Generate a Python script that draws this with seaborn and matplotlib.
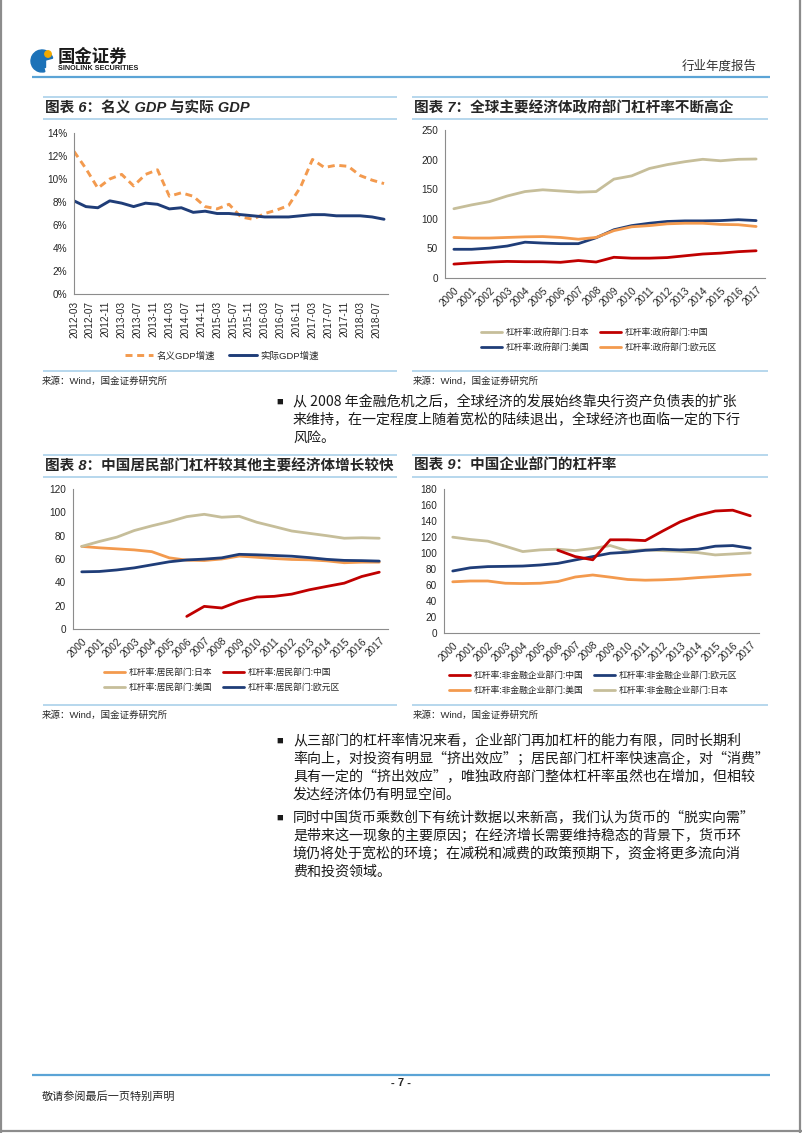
import numpy as np
import pandas as pd
import matplotlib
matplotlib.use("Agg")
import matplotlib.pyplot as plt
import seaborn as sns
from matplotlib.lines import Line2D
from matplotlib.patches import Wedge, Circle, Rectangle

# ---------------------------------------------------------------
# data
# ---------------------------------------------------------------
quarters = ["2012-03", "2012-06", "2012-09", "2012-12", "2013-03", "2013-06", "2013-09",
            "2013-12", "2014-03", "2014-06", "2014-09", "2014-12", "2015-03", "2015-06",
            "2015-09", "2015-12", "2016-03", "2016-06", "2016-09", "2016-12", "2017-03",
            "2017-06", "2017-09", "2017-12", "2018-03", "2018-06", "2018-09"]
nominal_gdp = [12.4, 10.9, 9.2, 10.0, 10.4, 9.4, 10.4, 10.8, 8.5, 8.8, 8.5, 7.6, 7.4, 7.8,
               6.7, 6.5, 7.0, 7.3, 7.7, 9.3, 11.7, 11.0, 11.2, 11.1, 10.3, 9.9, 9.6]
real_gdp = [8.1, 7.6, 7.5, 8.1, 7.9, 7.6, 7.9, 7.8, 7.4, 7.5, 7.1, 7.2, 7.0, 7.0,
            6.9, 6.8, 6.7, 6.7, 6.7, 6.8, 6.9, 6.9, 6.8, 6.8, 6.8, 6.7, 6.5]

years = [str(y) for y in range(2000, 2018)]
nan = np.nan

gov_japan = [117, 123.5, 129, 138.5, 146, 149, 147, 145, 146, 167, 172.5, 185, 191.5, 196.5, 200.5, 198, 200.5, 201]
gov_china = [23.5, 25.5, 27, 28, 27.5, 27.5, 26.5, 29.5, 27, 35, 33.5, 33.5, 34.5, 37.5, 40.5, 42, 44.5, 46]
gov_usa = [48.5, 48.5, 50.5, 54, 60.5, 59, 58, 58, 68, 81.5, 88.5, 92.5, 95.5, 96.5, 96.5, 97, 98.5, 97]
gov_euro = [68.5, 67.5, 67.5, 68.5, 69.5, 70, 68.5, 65.5, 68.5, 80, 86.5, 88.5, 91.5, 92.5, 92.5, 90.5, 90, 87]

hh_japan = [70.8, 69.6, 68.7, 67.8, 66.3, 61, 59, 58.7, 60, 62.5, 61.5, 60.4, 59.6, 59.3, 58.4, 56.8, 57.3, 57.3]
hh_china = [nan, nan, nan, nan, nan, nan, 10.8, 19.4, 18, 23.7, 27.4, 28, 29.9, 33.6, 36.5, 39.3, 45, 48.7]
hh_usa = [70.8, 75, 78.7, 84.4, 88.4, 92, 96.3, 98.3, 95.8, 96.6, 91.5, 87.8, 84, 82, 80, 77.8, 78.2, 77.8]
hh_euro = [49, 49.3, 50.6, 52.4, 55, 57.6, 59.2, 59.9, 61, 64, 63.6, 63, 62.4, 61.2, 59.7, 58.8, 58.6, 58.2]

corp_china = [nan, nan, nan, nan, nan, nan, 103.5, 95.5, 91.5, 116.5, 116.5, 115.5, 127.5, 139, 147, 152.5, 153.5, 146.5]
corp_euro = [77.5, 81.5, 83, 83.3, 83.7, 85, 87, 91.3, 95.5, 99.7, 101, 103.4, 104.7, 103.9, 104.7, 108.5, 109.3, 106]
corp_usa = [64, 65, 65, 62.2, 61.8, 62.2, 64.3, 70, 72.5, 69.8, 66.9, 66, 66.5, 67.5, 69.2, 70.5, 72, 73.2]
corp_japan = [119.8, 116.9, 114.8, 108.5, 101.8, 103.9, 104.7, 103, 105.6, 109.3, 102.6, 103.9, 103, 102, 100.5, 97.6, 98.8, 100.1]

# colours
ORANGE = "#F39A4E"
NAVY = "#1F3D78"
RED = "#C00000"
BEIGE = "#C6BE9A"
LINE_BLUE = "#5BA4D6"
PALE_BLUE = "#A3CDE8"
AXIS = "#8C8C8C"
TXT = "#262626"

sns.set_theme(style="white")
plt.rcParams["font.family"] = ["Liberation Sans", "Noto Sans CJK SC"]
plt.rcParams["axes.unicode_minus"] = False
CJK_FIRST = ["Noto Sans CJK SC", "Liberation Sans"]

W, H = 802, 1133
fig = plt.figure(figsize=(W / 100, H / 100), dpi=100)
fig.patch.set_facecolor("white")


def box(x0, y0, x1, y1):
    return [x0 / W, 1 - y1 / H, (x1 - x0) / W, (y1 - y0) / H]


def fy(y):
    return 1 - y / H


def hline(y, x0, x1, color, lw):
    fig.add_artist(Line2D([x0 / W, x1 / W], [fy(y), fy(y)], transform=fig.transFigure,
                          color=color, lw=lw, solid_capstyle="butt"))


def label(x, y, s, **kw):
    kw.setdefault("va", "center")
    kw.setdefault("color", TXT)
    fig.text(x / W, fy(y), s, **kw)


def style_ax(ax):
    for s in ["top", "right"]:
        ax.spines[s].set_visible(False)
    for s in ["left", "bottom"]:
        ax.spines[s].set_color(AXIS)
        ax.spines[s].set_linewidth(0.8)
    ax.tick_params(colors=AXIS, labelcolor=TXT, labelsize=7.2, length=3, width=0.8, pad=2)
    ax.set_xlabel("")
    ax.set_ylabel("")
    ax.set_facecolor("white")


def category_x(ax):
    ax.set_xlim(-0.5, len(years) - 0.5)
    ax.set_xticks(range(len(years)))
    ax.set_xticklabels(years, rotation=45, ha="right", rotation_mode="anchor", fontsize=7.2)
    ax.tick_params(axis="x", which="major", length=0, pad=5)
    ax.set_xticks(np.arange(-0.5, len(years), 1), minor=True)
    ax.tick_params(axis="x", which="minor", length=3, color=AXIS, width=0.8)


def legend(ax, order, cx, cy, fs=6.3):
    handles = [ax.lines[i] for i in order]
    labels = [h.get_label() for h in handles]
    ax.legend(handles, labels, ncol=2, loc="center", bbox_to_anchor=(cx / W, fy(cy)),
              bbox_transform=fig.transFigure, frameon=False, fontsize=fs,
              handlelength=2.4, handletextpad=0.4, columnspacing=1.3, labelspacing=0.75,
              labelcolor=TXT)


def series_plot(ax, values, color, name):
    df = pd.DataFrame({"x": range(len(years)), "y": values}).dropna()
    sns.lineplot(data=df, x="x", y="y", color=color, lw=2, ax=ax, label=name, legend=False)


# ---------------------------------------------------------------
# page furniture
# ---------------------------------------------------------------
for xs, ys in [([0.001, 0.001], [0, 1]), ([0.998, 0.998], [0, 1]), ([0, 1], [0.002, 0.002])]:
    fig.add_artist(Line2D(xs, ys, transform=fig.transFigure, color="#8C8C8C", lw=1.6))

logo = fig.add_axes(box(28, 44, 58, 76))
logo.set_xlim(0, 30)
logo.set_ylim(32, 0)
logo.axis("off")
logo.add_patch(Wedge((14, 17), 11, 75, 345, width=6.5, color="#1C72B8"))
logo.add_patch(Rectangle((10.5, 11), 7, 12, color="#1C72B8"))
logo.add_patch(Circle((20, 10), 3.2, color="#F2A900"))
label(58, 57, "国金证券", fontsize=12.5, fontweight="bold", color="#1a1a1a", family=CJK_FIRST)
label(58, 69, "SINOLINK SECURITIES", fontsize=5.2, fontweight="bold", color="#1a1a1a")
label(757, 66, "行业年度报告", fontsize=9, ha="right", color="#333333")
hline(77, 32, 770, LINE_BLUE, 1.6)

# chart title / source rules
for x0, x1 in [(43, 397), (412, 768)]:
    hline(97, x0, x1, PALE_BLUE, 1.1)
    hline(119, x0, x1, PALE_BLUE, 1.1)
    hline(371, x0, x1, PALE_BLUE, 1.1)
    hline(455, x0, x1, PALE_BLUE, 1.1)
    hline(477, x0, x1, PALE_BLUE, 1.1)
    hline(705, x0, x1, PALE_BLUE, 1.1)

label(45, 108, "图表 6：名义 GDP 与实际 GDP", fontsize=10.5, fontweight="bold", style="italic")
label(414, 108, "图表 7：全球主要经济体政府部门杠杆率不断高企", fontsize=10.5, fontweight="bold", style="italic")
label(45, 466, "图表 8：中国居民部门杠杆较其他主要经济体增长较快", fontsize=10.5, fontweight="bold", style="italic")
label(414, 466, "图表 9：中国企业部门的杠杆率", fontsize=10.5, fontweight="bold", style="italic")

for x, y in [(42, 381), (413, 381), (42, 715), (413, 715)]:
    label(x, y, "来源：Wind，国金证券研究所", fontsize=6.8)

# ---------------------------------------------------------------
# chart 6: nominal vs real GDP
# ---------------------------------------------------------------
gdp = pd.DataFrame({"quarter": pd.to_datetime(quarters), "nominal": nominal_gdp, "real": real_gdp})
start = gdp["quarter"].iloc[0]
gdp["m"] = (gdp["quarter"].dt.year - start.year) * 12 + gdp["quarter"].dt.month - start.month

ax6 = fig.add_axes(box(74, 133, 388, 294))
sns.lineplot(data=gdp, x="m", y="nominal", color=ORANGE, lw=2.1, ax=ax6, label="名义GDP增速", legend=False)
sns.lineplot(data=gdp, x="m", y="real", color=NAVY, lw=2.1, ax=ax6, label="实际GDP增速", legend=False)
ax6.lines[0].set_dashes([2.4, 1.6])
style_ax(ax6)
tick_dates = pd.date_range(quarters[0], "2018-07-01", freq="4MS")
tick_m = [(d.year - start.year) * 12 + d.month - start.month for d in tick_dates]
ax6.set_xlim(0, 79)
ax6.set_xticks(tick_m)
ax6.set_xticklabels([d.strftime("%Y-%m") for d in tick_dates], rotation=90, fontsize=7.2)
ax6.set_ylim(0, 14)
ax6.set_yticks(range(0, 15, 2))
ax6.set_yticklabels([f"{v}%" for v in range(0, 15, 2)])
ax6.set_xlabel("")
ax6.set_ylabel("")
h6 = ax6.lines[:2]
ax6.legend(h6, [h.get_label() for h in h6], ncol=2, loc="center", bbox_to_anchor=(222 / W, fy(356)),
           bbox_transform=fig.transFigure, frameon=False, fontsize=6.8, handlelength=3.0,
           handletextpad=0.4, columnspacing=1.4, labelcolor=TXT)

# ---------------------------------------------------------------
# chart 7: government leverage
# ---------------------------------------------------------------
ax7 = fig.add_axes(box(445, 130, 765, 278))
series_plot(ax7, gov_japan, BEIGE, "杠杆率:政府部门:日本")
series_plot(ax7, gov_china, RED, "杠杆率:政府部门:中国")
series_plot(ax7, gov_usa, NAVY, "杠杆率:政府部门:美国")
series_plot(ax7, gov_euro, ORANGE, "杠杆率:政府部门:欧元区")
style_ax(ax7)
category_x(ax7)
ax7.set_ylim(0, 250)
ax7.set_yticks(range(0, 251, 50))
ax7.set_xlabel("")
ax7.set_ylabel("")
legend(ax7, [0, 2, 1, 3], 599, 340)

# ---------------------------------------------------------------
# chart 8: household leverage
# ---------------------------------------------------------------
ax8 = fig.add_axes(box(73, 489, 388, 629))
series_plot(ax8, hh_japan, ORANGE, "杠杆率:居民部门:日本")
series_plot(ax8, hh_china, RED, "杠杆率:居民部门:中国")
series_plot(ax8, hh_usa, BEIGE, "杠杆率:居民部门:美国")
series_plot(ax8, hh_euro, NAVY, "杠杆率:居民部门:欧元区")
style_ax(ax8)
category_x(ax8)
ax8.set_ylim(0, 120)
ax8.set_yticks(range(0, 121, 20))
ax8.set_xlabel("")
ax8.set_ylabel("")
legend(ax8, [0, 2, 1, 3], 222, 680)

# ---------------------------------------------------------------
# chart 9: corporate leverage
# ---------------------------------------------------------------
ax9 = fig.add_axes(box(444, 489, 759, 633))
series_plot(ax9, corp_japan, BEIGE, "杠杆率:非金融企业部门:日本")
series_plot(ax9, corp_usa, ORANGE, "杠杆率:非金融企业部门:美国")
series_plot(ax9, corp_euro, NAVY, "杠杆率:非金融企业部门:欧元区")
series_plot(ax9, corp_china, RED, "杠杆率:非金融企业部门:中国")
style_ax(ax9)
category_x(ax9)
ax9.set_ylim(0, 180)
ax9.set_yticks(range(0, 181, 20))
ax9.set_xlabel("")
ax9.set_ylabel("")
legend(ax9, [3, 1, 2, 0], 593, 683)

# ---------------------------------------------------------------
# body text
# ---------------------------------------------------------------
para1 = ["从 2008 年金融危机之后，全球经济的发展始终靠央行资产负债表的扩张",
         "来维持，在一定程度上随着宽松的陆续退出，全球经济也面临一定的下行",
         "风险。"]
para2 = ["从三部门的杠杆率情况来看，企业部门再加杠杆的能力有限，同时长期利",
         "率向上，对投资有明显“挤出效应”；居民部门杠杆率快速高企，对“消费”",
         "具有一定的“挤出效应”，唯独政府部门整体杠杆率虽然也在增加，但相较",
         "发达经济体仍有明显空间。"]
para3 = ["同时中国货币乘数创下有统计数据以来新高，我们认为货币的“脱实向需”",
         "是带来这一现象的主要原因；在经济增长需要维持稳态的背景下，货币环",
         "境仍将处于宽松的环境；在减税和减费的政策预期下，资金将更多流向消",
         "费和投资领域。"]
for lines, y0 in [(para1, 402), (para2, 741), (para3, 818)]:
    label(276, y0, "■", fontsize=8, color="#1a1a1a")
    for i, s in enumerate(lines):
        label(293, y0 + i * 18, s, fontsize=10.1, color="#1a1a1a", family=CJK_FIRST)

# footer
hline(1075, 32, 770, LINE_BLUE, 1.6)
label(401, 1083, "- 7 -", fontsize=8, fontweight="bold", ha="center")
label(42, 1097, "敬请参阅最后一页特别声明", fontsize=8)

fig.savefig("out.png", dpi=100, facecolor="white")
